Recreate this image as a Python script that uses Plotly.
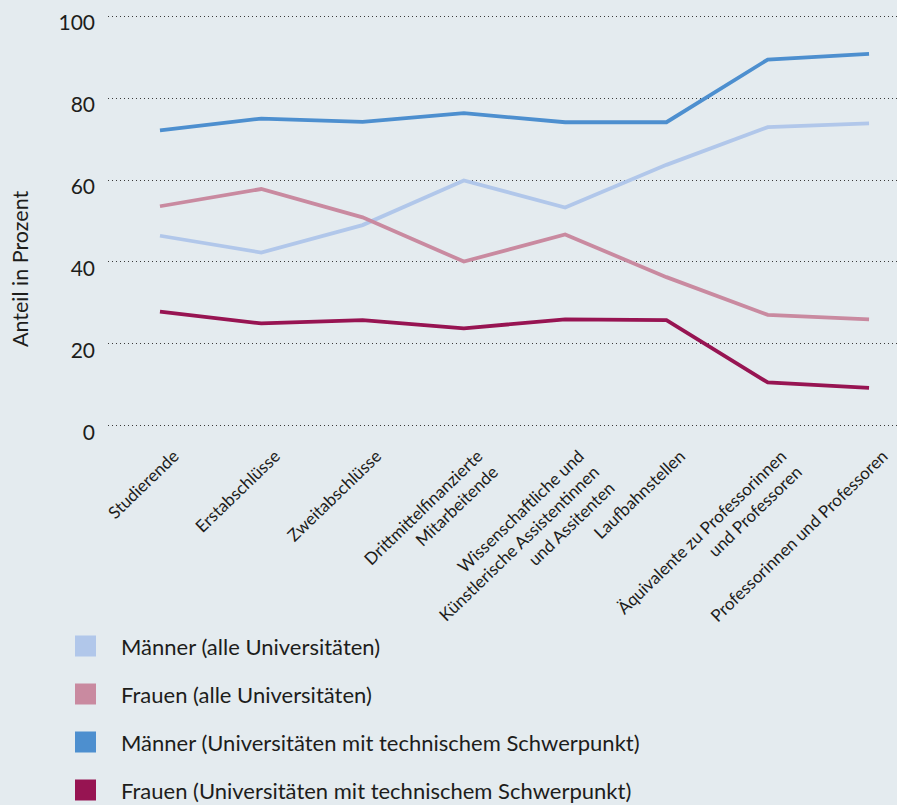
import plotly.graph_objects as go

categories = [
    "Studierende",
    "Erstabschlüsse",
    "Zweitabschlüsse",
    "Drittmittelfinanzierte<br>Mitarbeitende",
    "Wissenschaftliche und<br>Künstlerische Assistentinnen<br>und Assitenten",
    "Laufbahnstellen",
    "Äquivalente zu Professorinnen<br>und Professoren",
    "Professorinnen und Professoren",
]

maenner_alle = [46.4, 42.3, 49.0, 59.9, 53.3, 63.7, 72.9, 73.8]
frauen_alle = [53.6, 57.8, 50.9, 40.1, 46.7, 36.3, 27.1, 26.0]
maenner_tech = [72.1, 75.0, 74.2, 76.3, 74.1, 74.1, 89.4, 90.8]
frauen_tech = [27.9, 25.0, 25.8, 23.8, 26.0, 25.8, 10.6, 9.3]

series_names = [
    "Männer (alle Universitäten)",
    "Frauen (alle Universitäten)",
    "Männer (Universitäten mit technischem Schwerpunkt)",
    "Frauen (Universitäten mit technischem Schwerpunkt)",
]
series_values = [maenner_alle, frauen_alle, maenner_tech, frauen_tech]
series_colors = ["#b1c7ea", "#c98aa0", "#4d8fcf", "#971452"]

y_ticks = [0, 20, 40, 60, 80, 100]

FONT = "Lato"
BG = "#e4ebef"
TXT = "#1d1d1b"

fig = go.Figure()
idx = list(range(len(categories)))
for name, vals, col in zip(series_names, series_values, series_colors):
    fig.add_trace(go.Scatter(
        x=idx, y=vals, mode="lines", name=name,
        line=dict(color=col, width=3.8),
        showlegend=False,
    ))

W, H = 897, 805
ml, mr, mt, mb = 108, 0, 12, 375
pw, ph = W - ml - mr, H - mt - mb

def px_to_paper(xp, yp):
    return (xp - ml) / pw, (H - mb - yp) / ph

# legend (squares + labels) below the chart
row_y = [646, 694, 742, 790]
for name, col, ry in zip(series_names, series_colors, row_y):
    x0, y0 = px_to_paper(75, ry + 10.5)
    x1, y1 = px_to_paper(96, ry - 10.5)
    fig.add_shape(type="rect", xref="paper", yref="paper",
                  x0=x0, x1=x1, y0=y0, y1=y1,
                  fillcolor=col, line=dict(width=0))
    tx, ty = px_to_paper(119, ry)
    fig.add_annotation(xref="paper", yref="paper", x=tx, y=ty,
                       text=name, showarrow=False, xanchor="left", yanchor="middle",
                       font=dict(family=FONT, size=22, color=TXT))

# y axis title
tx, ty = px_to_paper(20, 269)
fig.add_annotation(xref="paper", yref="paper", x=tx, y=ty, text="Anteil in Prozent",
                   textangle=-90, showarrow=False, xanchor="center", yanchor="middle",
                   font=dict(family=FONT, size=21.5, color=TXT))

fig.update_layout(
    width=W, height=H,
    margin=dict(l=ml, r=mr, t=mt, b=mb),
    paper_bgcolor=BG, plot_bgcolor=BG,
    showlegend=False,
    font=dict(family=FONT, color=TXT),
    xaxis=dict(
        tickmode="array", tickvals=idx, ticktext=categories,
        range=[-0.513, 7.276], showgrid=False, zeroline=False, showline=False,
        tickangle=-44, tickfont=dict(size=17, family=FONT, color=TXT),
        ticks="", ticklabelstandoff=12, ticklabelshift=14,
    ),
    yaxis=dict(
        range=[-1, 101], tickmode="array", tickvals=y_ticks,
        showgrid=True, gridcolor="#3a3a3a", gridwidth=1, griddash="1px,3px",
        zeroline=False, showline=False, ticks="",
        tickfont=dict(size=21, family=FONT, color=TXT),
        ticklabelstandoff=12, ticklabelshift=7,
    ),
)

fig.write_html(
    "out.html",
    config={"displayModeBar": False},
    post_script="document.body.style.margin='0';document.body.style.background='%s';"
                "document.documentElement.style.overflow='hidden';" % BG,
)
